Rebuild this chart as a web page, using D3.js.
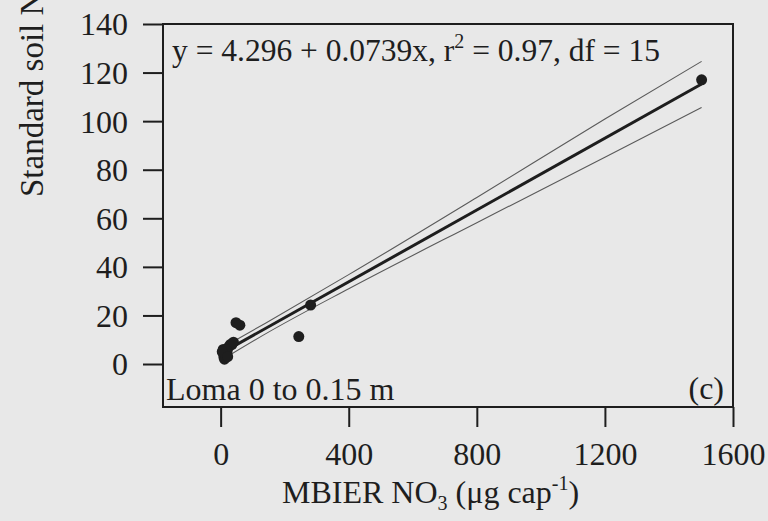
<!DOCTYPE html>
<html>
<head>
<meta charset="utf-8">
<script src="https://cdn.jsdelivr.net/npm/d3@7"></script>
<style>
  html, body { margin: 0; padding: 0; background: #e8e8e8; }
  svg text { font-family: "Liberation Serif", "Times New Roman", serif; fill: #1e1e1e; }
</style>
</head>
<body>
<svg id="chart" width="768" height="521"></svg>
<script>
// ---- data ----
const pointsX = [1502, 281, 244, 48, 60, 8, 10, 15, 20, 25, 30, 35, 12, 18, 5, 40, 22];
const pointsY = [117, 24.3, 11.3, 17, 16, 6, 3, 4, 5, 7, 8, 8, 2, 6, 5, 9, 3];
const fitIntercept = 4.296;
const fitSlope = 0.0739;
const fitRange = [15, 1502];
const bandX = [20, 140, 400, 800, 1200, 1502];
const bandUpper = [7.8, 16.8, 36.8, 68.6, 100.9, 124.6];
const bandLower = [3.0, 12.4, 31.0, 58.2, 85.1, 105.6];
const xTicks = [0, 400, 800, 1200, 1600];
const yTicks = [0, 20, 40, 60, 80, 100, 120, 140];

const svg = d3.select("#chart");
const ink = "#1e1e1e";
const FS = 32;

svg.append("rect").attr("width", 768).attr("height", 521).attr("fill", "#e8e8e8");

const x = d3.scaleLinear().domain([-180, 1600]).range([163, 733]);
const y = d3.scaleLinear().domain([-17.7, 140]).range([407, 24]);

// frame
svg.append("rect")
  .attr("x", x(-180)).attr("y", y(140))
  .attr("width", x(1600) - x(-180)).attr("height", y(-17.7) - y(140))
  .attr("fill", "none").attr("stroke", ink).attr("stroke-width", 2);

// y axis
const yAxis = svg.append("g").attr("transform", `translate(${x(-180)},0)`)
  .call(d3.axisLeft(y).tickValues(yTicks).tickSize(20).tickPadding(15).tickFormat(d3.format("d")));
yAxis.select(".domain").remove();
yAxis.selectAll("line").attr("stroke", ink).attr("stroke-width", 2);
yAxis.selectAll("text").attr("font-size", FS).attr("dy", "0.34em")
  .style("font-family", '"Liberation Serif", serif').attr("fill", ink);

// x axis
const xAxis = svg.append("g").attr("transform", `translate(0,${y(-17.7)})`)
  .call(d3.axisBottom(x).tickValues(xTicks).tickSize(20).tickPadding(15).tickFormat(d3.format("d")));
xAxis.select(".domain").remove();
xAxis.selectAll("line").attr("stroke", ink).attr("stroke-width", 2);
xAxis.selectAll("text").attr("font-size", FS)
  .style("font-family", '"Liberation Serif", serif').attr("fill", ink);

// confidence bands
const bandLine = d3.line().x(d => x(d[0])).y(d => y(d[1])).curve(d3.curveMonotoneX);
svg.append("path").datum(bandX.map((v, i) => [v, bandUpper[i]]))
  .attr("d", bandLine).attr("fill", "none").attr("stroke", "#5a5a5a").attr("stroke-width", 1.1);
svg.append("path").datum(bandX.map((v, i) => [v, bandLower[i]]))
  .attr("d", bandLine).attr("fill", "none").attr("stroke", "#5a5a5a").attr("stroke-width", 1.1);

// fitted line
svg.append("path").datum(fitRange.map(v => [v, fitIntercept + fitSlope * v]))
  .attr("d", d3.line().x(d => x(d[0])).y(d => y(d[1])))
  .attr("fill", "none").attr("stroke", ink).attr("stroke-width", 3);

// points
svg.append("g").selectAll("circle").data(pointsX.map((v, i) => [v, pointsY[i]]))
  .join("circle").attr("cx", d => x(d[0])).attr("cy", d => y(d[1])).attr("r", 5.5).attr("fill", ink);

// equation
const eq = svg.append("text").attr("x", 172).attr("y", 61).attr("font-size", 31.5);
eq.append("tspan").text("y = 4.296 + 0.0739x, r");
eq.append("tspan").attr("font-size", 20).attr("dy", -13).text("2");
eq.append("tspan").attr("dy", 13).text(" = 0.97, df = 15");

// panel labels
svg.append("text").attr("x", 166).attr("y", 400).attr("font-size", FS).text("Loma 0 to 0.15 m");
svg.append("text").attr("x", 724).attr("y", 399).attr("font-size", FS).attr("text-anchor", "end").text("(c)");

// x title
const xt = svg.append("text").attr("x", 282).attr("y", 503).attr("font-size", FS);
xt.append("tspan").text("MBIER NO");
xt.append("tspan").attr("font-size", 20).attr("dy", 7).text("3");
xt.append("tspan").attr("dy", -7).text(" (μg cap");
xt.append("tspan").attr("font-size", 20).attr("dy", -13).text("-1");
xt.append("tspan").attr("dy", 13).text(")");

// y title (runs off the top edge, as in the reference)
const yt = svg.append("text").attr("transform", "translate(43,197) rotate(-90)").attr("font-size", 33);
yt.append("tspan").text("Standard soil NO");
yt.append("tspan").attr("font-size", 21).attr("dy", 7).text("3");
yt.append("tspan").attr("dy", -7).text(" (mg kg");
yt.append("tspan").attr("font-size", 21).attr("dy", -13).text("-1");
yt.append("tspan").attr("dy", 13).text(")");
</script>
</body>
</html>
